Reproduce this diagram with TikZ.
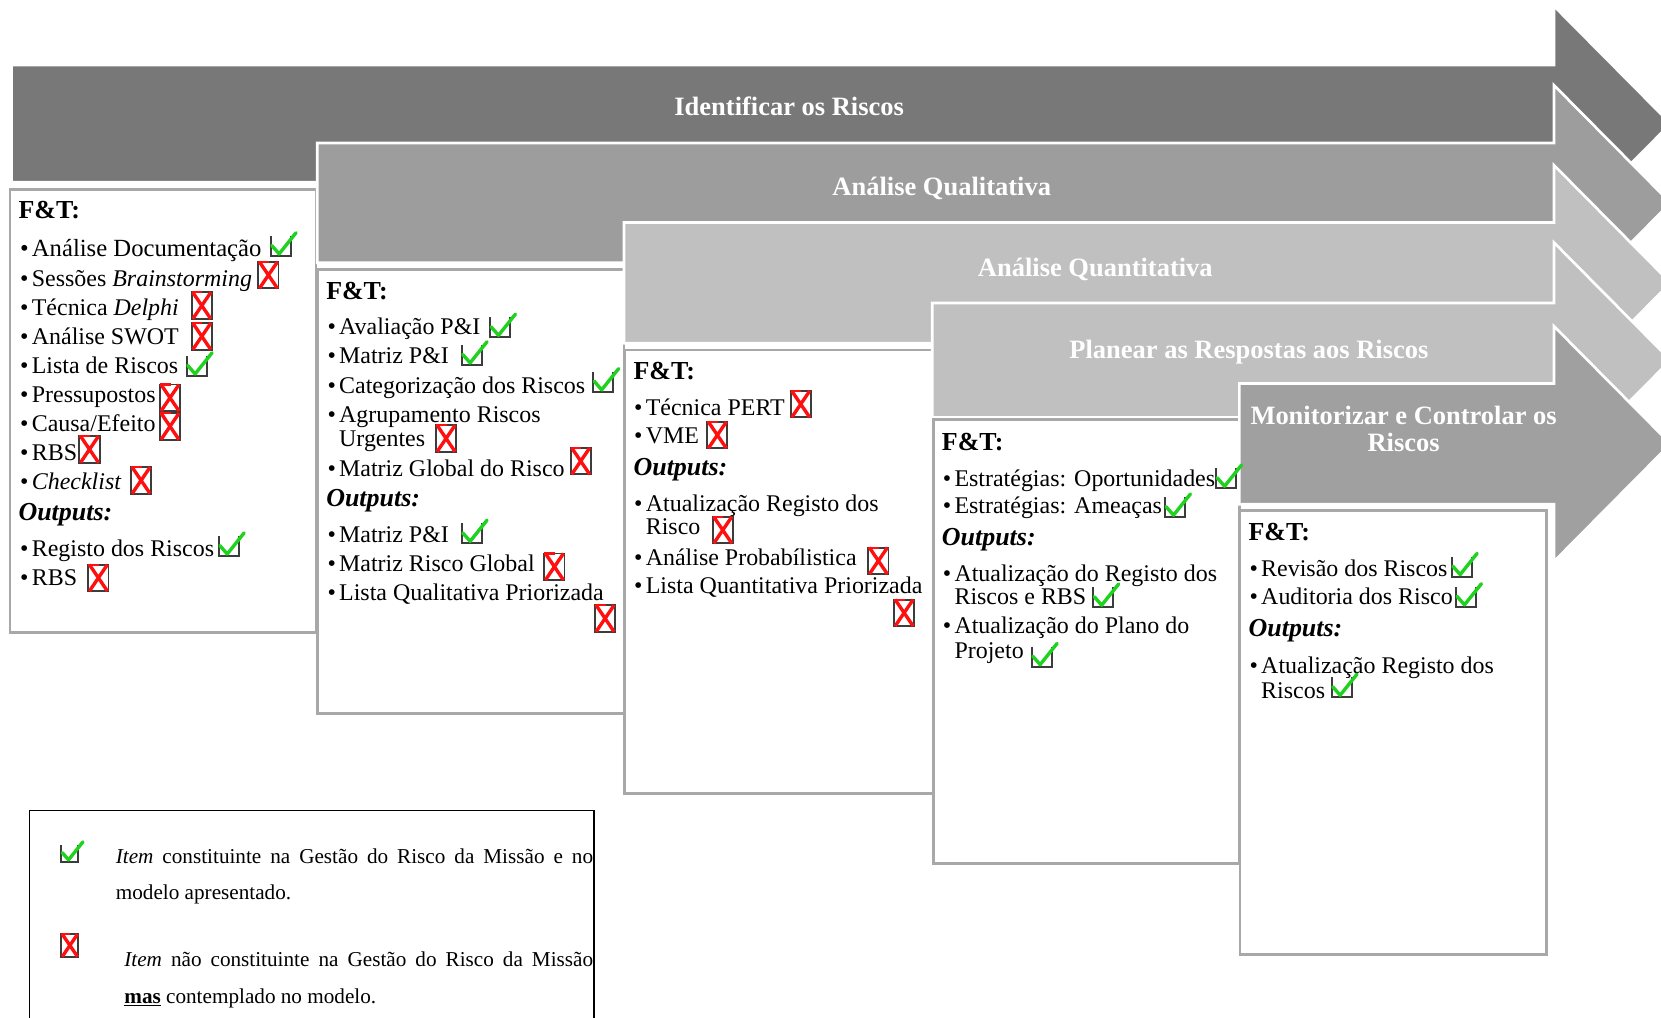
\documentclass[tikz,border=0pt]{standalone}
\usepackage{fontspec}
\setmainfont{Liberation Serif}
\definecolor{bandA}{HTML}{787878}
\definecolor{bandB}{HTML}{9D9D9D}
\definecolor{bandC}{HTML}{C0C0C0}
\definecolor{bandD}{HTML}{C0C0C0}
\definecolor{bandE}{HTML}{A0A0A0}
\definecolor{panelgray}{HTML}{A8A8A8}
\definecolor{markgray}{HTML}{3C3C3C}
\definecolor{okgreen}{HTML}{1ED21E}
\definecolor{nored}{HTML}{FF1010}
\newcommand\bul{\makebox[11pt][l]{\textbullet}}
\newcommand\itemsize{\fontsize{22.6pt}{23pt}\selectfont}
\newcommand\headsize{\fontsize{24.5pt}{26pt}\selectfont}
\newcommand\titlesize{\fontsize{25pt}{26pt}\selectfont}
\newcommand\legsize{\fontsize{20pt}{22pt}\selectfont}
\begin{document}
\begin{tikzpicture}[x=1pt,y=-1pt,
  band/.style={draw=white, line width=2.5pt, line join=miter},
  panel/.style={draw=panelgray, line width=2.4pt, fill=white},
  it/.style={anchor=base west, inner sep=0pt, font=\itemsize},
  hd/.style={anchor=base west, inner sep=0pt, font=\headsize\bfseries},
  outp/.style={anchor=base west, inner sep=0pt, font=\headsize\bfseries\itshape},
  ttl/.style={anchor=base, inner sep=0pt, text=white, font=\titlesize\bfseries},
  lg/.style={anchor=base west, inner sep=0pt, font=\legsize},
  markline/.style={draw=markgray, line width=1.8pt},
  okstroke/.style={draw=okgreen, line width=3.2pt, line cap=round, line join=round},
  nostroke/.style={draw=nored, line width=3.2pt},
  okmark/.pic={
    \draw[markline] (0,-19) -- (0,0) -- (19,0) -- (19,-19);
    \draw[okstroke] (1,-10) -- (8,-2) -- (24,-22);
  },
  nomark/.pic={
    \draw[markline] (0,0) rectangle (19,-25);
    \draw[nostroke] (1,-25) -- (18,0) (18,-25) -- (1,0);
    \draw[nostroke, line width=2pt] (0,-25) -- (10,-25);
  }]
\clip (0,0) rectangle (1568,961);
\fill[white] (0,0) rectangle (1568,961);

% process bands with their panels
\filldraw[band, fill=bandA] (11,61.5) -- (1467,61.5) -- (1467,5.75) -- (1577,116.75) -- (1467,227.75) -- (1467,172) -- (11,172) -- cycle;
\filldraw[panel] (9.4,178.7) rectangle (298.3,597.3);
\filldraw[band, fill=bandB] (299.5,135) -- (1467,135) -- (1467,80.5) -- (1577,191.5) -- (1467,302.5) -- (1467,248) -- (299.5,248) -- cycle;
\filldraw[panel] (299.5,254.3) rectangle (589,673.4);
\filldraw[band, fill=bandC] (589,210) -- (1467,210) -- (1467,156) -- (1577,267) -- (1467,378) -- (1467,324) -- (589,324) -- cycle;
\filldraw[panel] (589.5,330.4) rectangle (881,749);
\filldraw[band, fill=bandD] (880,286) -- (1467,286) -- (1467,229) -- (1577,340) -- (1467,451) -- (1467,394) -- (880,394) -- cycle;
\filldraw[panel] (881,395.9) rectangle (1170,815);
\filldraw[band, fill=bandE] (1170,362) -- (1467,362) -- (1467,308) -- (1577,419) -- (1467,530) -- (1467,476) -- (1170,476) -- cycle;
\filldraw[panel] (1170.6,482.1) rectangle (1460,901);

% band titles
\node[ttl] (n1) at (745,109) {Identificar os Riscos};
\node[ttl] (n2) at (889,185) {Análise Qualitativa};
\node[ttl] (n3) at (1034,261) {Análise Quantitativa};
\node[ttl] (n4) at (1179,338) {Planear as Respostas aos Riscos};
\node[ttl] (n5) at (1325,401) {Monitorizar e Controlar os};
\node[ttl] (n5b) at (1325,426) {Riscos};

% panel 1
\node[hd] (h1) at (17.3,206) {F\&T:};
\node[it, font=\fontsize{23.3pt}{24pt}\selectfont] (a1) at (18.9,242.5) {\bul Análise Documentação};
\node[it] (a2) at (18.9,270) {\bul Sessões \textit{Brainstorming}};
\node[it] (a3) at (18.9,297.5) {\bul Técnica \textit{Delphi}};
\node[it] (a4) at (18.9,325) {\bul Análise SWOT};
\node[it] (a5) at (18.9,352.5) {\bul Lista de Riscos};
\node[it] (a6) at (18.9,380) {\bul Pressupostos};
\node[it] (a7) at (18.9,407.5) {\bul Causa/Efeito};
\node[it] (a8) at (18.9,435) {\bul RBS};
\node[it] (a9) at (18.9,462.5) {\bul \textit{Checklist}};
\node[outp] (o1) at (17.3,491) {Outputs:};
\node[it] (a10) at (18.9,525.5) {\bul Registo dos Riscos};
\node[it] (a11) at (18.9,553) {\bul RBS};

% panel 2
\node[hd] (h2) at (307.8,282.6) {F\&T:};
\node[it] (b1) at (309,316.2) {\bul Avaliação P\&I};
\node[it] (b2) at (309,343.6) {\bul Matriz P\&I};
\node[it] (b3) at (309,371.3) {\bul Categorização dos Riscos};
\node[it] (b4) at (309,399) {\bul Agrupamento Riscos};
\node[it] (b4b) at (320,421.7) {Urgentes};
\node[it] (b5) at (309,449.4) {\bul Matriz Global do Risco};
\node[outp] (o2) at (307.8,477.7) {Outputs:};
\node[it] (b6) at (309,512.3) {\bul Matriz P\&I};
\node[it] (b7) at (309,539.7) {\bul Matriz Risco Global};
\node[it] (b8) at (309,567) {\bul Lista Qualitativa Priorizada};

% panel 3
\node[hd] (h3) at (597.9,358.1) {F\&T:};
\node[it] (c1) at (598.5,391.8) {\bul Técnica PERT};
\node[it] (c2) at (598.5,419.1) {\bul VME};
\node[outp] (o3) at (597.9,448.4) {Outputs:};
\node[it] (c3) at (598.5,482.4) {\bul Atualização Registo dos};
\node[it] (c3b) at (609.5,505) {Risco};
\node[it] (c4) at (598.5,533.4) {\bul Análise Probabílistica};
\node[it] (c5) at (598.5,560.7) {\bul Lista Quantitativa Priorizada};

% panel 4
\node[hd] (h4) at (889,424.8) {F\&T:};
\node[it] (d1) at (889.9,458.8) {\bul Estratégias: Oportunidades};
\node[it] (d2) at (889.9,485.2) {\bul Estratégias: Ameaças};
\node[outp] (o4) at (889,514.5) {Outputs:};
\node[it] (d3) at (889.9,549.1) {\bul Atualização do Registo dos};
\node[it] (d3b) at (900.9,571.1) {Riscos e RBS};
\node[it] (d4) at (889.9,597.9) {\bul Atualização do Plano do};
\node[it] (d4b) at (900.9,621.5) {Projeto};

% panel 5
\node[hd] (h5) at (1178.5,509.8) {F\&T:};
\node[it] (e1) at (1179.4,543.8) {\bul Revisão dos Riscos};
\node[it] (e2) at (1179.4,571.1) {\bul Auditoria dos Risco};
\node[outp] (o5) at (1178.5,601) {Outputs:};
\node[it] (e3) at (1179.4,635.6) {\bul Atualização Registo dos};
\node[it] (e3b) at (1190.4,659.2) {Riscos};

% item marks
\foreach \x/\y in {255.5/241.7, 176.2/355, 206.5/525, 462.6/318.5, 435.8/344.6,
  560/370, 435.8/513, 1148/461, 1099.8/488.3, 1032/573.3, 973.9/629.4,
  1370.4/544.4, 1374.5/573, 1257.1/658.3}
  \pic at (\x,\y) {okmark};
\foreach \x/\y in {243.9/272.2, 181/301, 181/330, 151/388, 151/415, 75/436.7,
  123.7/466, 83.4/558, 411.6/426.4, 538.7/447.8, 513.9/547.5, 561.7/596.3,
  746.4/394, 667.7/423.2, 672.8/512.9, 819.7/541.9, 844/591}
  \pic at (\x,\y) {nomark};

% legend
\draw[black, line width=1.2pt] (27.9,765.3) rectangle (560.8,1000);
\pic[scale=0.85] at (57.9,813.4) {okmark};
\pic[scale=0.85] at (57.9,903.1) {nomark};
\node[lg] (l1) at (109.2,815) {\makebox[450.5pt][s]{\textit{Item} constituinte na Gestão do Risco da Missão e no}};
\node[lg] (l2) at (109.2,849) {modelo apresentado.};
\node[lg] (l3) at (117.2,912.6) {\makebox[442.5pt][s]{\textit{Item} não constituinte na Gestão do Risco da Missão}};
\node[lg] (l4) at (117.2,947.2) {\textbf{\underline{mas}} contemplado no modelo.};
\end{tikzpicture}
\end{document}
